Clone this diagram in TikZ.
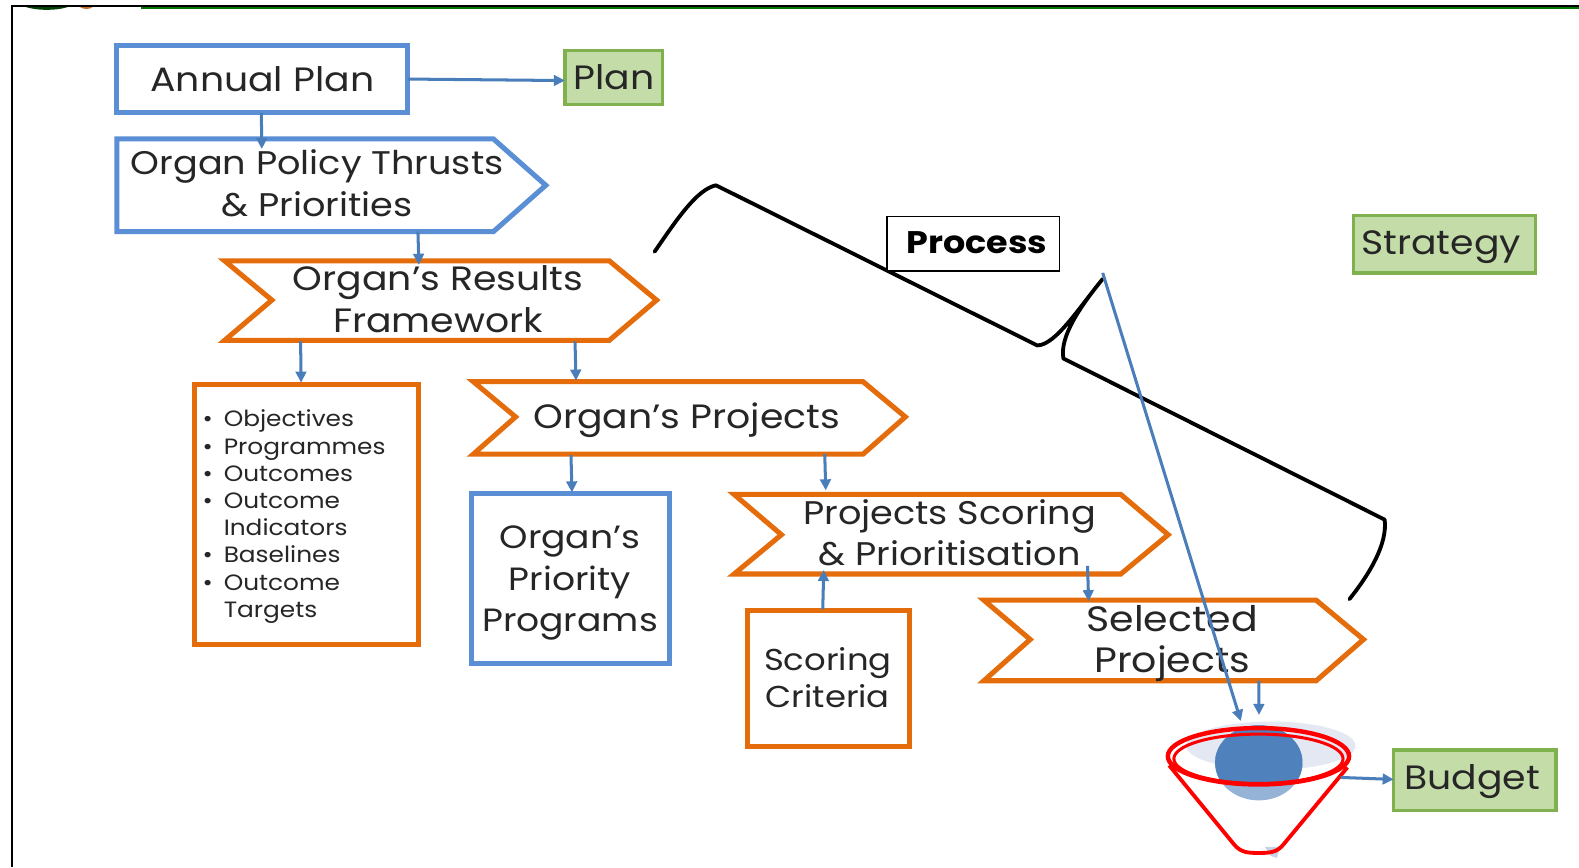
\documentclass[tikz,border=0pt]{standalone}
\usepackage{fontspec}
\setmainfont{Poppins}[FakeStretch=1.12]
\usetikzlibrary{arrows.meta,shapes.geometric}
\definecolor{bluebd}{HTML}{5A8FD6}
\definecolor{orangebd}{HTML}{E46C0A}
\definecolor{greenbd}{HTML}{7FB24F}
\definecolor{greenfl}{HTML}{C3DCA8}
\definecolor{conn}{HTML}{4A7EBB}
\definecolor{txt}{HTML}{262626}
\definecolor{eyedark}{HTML}{4F81BD}
\definecolor{eyelight}{HTML}{95B3D7}
\definecolor{eyepale}{HTML}{E3E8F2}
\definecolor{capmark}{HTML}{C5D2E6}
\newcommand{\bigfs}{\fontsize{33.5}{41}\selectfont}
\newcommand{\midfs}{\fontsize{32.5}{41}\selectfont}
\newcommand{\listfs}{\fontsize{22}{27}\selectfont}
\tikzset{
  box/.style={draw,line width=5pt,fill=white,inner sep=0pt,outer sep=0pt,text=txt,align=center},
  bluebox/.style={box,draw=bluebd},
  orangebox/.style={box,draw=orangebd},
  greenbox/.style={box,draw=greenbd,fill=greenfl,line width=3.5pt},
  blueshape/.style={draw=bluebd,line width=5pt,line join=miter,fill=white},
  orangeshape/.style={draw=orangebd,line width=5pt,line join=miter,fill=white},
  lbl/.style={text=txt,align=center,inner sep=0pt,font=\bigfs},
  anchorbox/.style={inner sep=0pt,outer sep=0pt},
  link/.style={draw=conn,line width=3pt,-{Triangle[length=11pt,width=10.5pt]}},
  brace/.style={draw=black,line width=3.8pt,line cap=round,line join=round},
  funnelline/.style={draw=red,line width=4.4pt,line join=round},
}
\begin{document}
\begin{tikzpicture}[x=1pt,y=-1pt]
\useasboundingbox (0,0) rectangle (1568,861);
\fill[white] (0,0) rectangle (1568,861);

% frame and header remnants
\fill[green!25!black] (23,6) .. controls (35,11) and (58,11) .. (70,6) -- cycle;
\fill[orangebd!70!gray] (78,6) .. controls (82,10) and (90,10) .. (93,6) -- cycle;
\draw[line width=1.6pt,green!45!black] (140,8) -- (1568,8);
\draw[line width=2.4pt,black] (12,861) -- (12,6) -- (1568,6);

% bracket
\draw[brace] (650,250) .. controls (672,218) and (692,188) .. (711,184)
  -- (1030,343) .. controls (1048,343) and (1072,305) .. (1095,277)
  .. controls (1072,305) and (1052,335) .. (1056,356)
  -- (1375,516) .. controls (1378,540) and (1360,570) .. (1340,595);

% named shape holders and outlines
\node[bluebox,minimum width=289pt,minimum height=67pt,font=\bigfs] (annual) at (260.5,78.5) {Annual Plan};
\node[greenbox,minimum width=97pt,minimum height=54pt,font=\bigfs] (plan) at (609.5,77) {Plan};
\node[greenbox,minimum width=181pt,minimum height=57pt] (strategy) at (1434.5,242.5) {};
\node[lbl] (strategyT) at (1431,245) {Strategy};
\node[greenbox,minimum width=161pt,minimum height=60pt] (budget) at (1464.5,775) {};
\node[lbl] (budgetT) at (1462,776) {Budget};

\draw[blueshape] (116,138) -- (490,138) -- (542,184) -- (490,230) -- (116,230) -- cycle;
\node[anchorbox,minimum width=374pt,minimum height=92pt] (policy) at (303,184) {};
\node[lbl,font=\midfs] (policyT) at (315,182) {Organ Policy Thrusts\\\& Priorities};

\draw[orangeshape] (223,259) -- (605,259) -- (652,298) -- (605,338) -- (223,338) -- (270,298) -- cycle;
\node[anchorbox,minimum width=385pt,minimum height=79pt] (results) at (412.5,298.5) {};
\node[lbl] (resultsT) at (435,297) {Organ’s Results\\Framework};

\draw[orangeshape] (470,379) -- (857,379) -- (899,414) -- (857,451) -- (470,451) -- (512,414) -- cycle;
\node[anchorbox,minimum width=390pt,minimum height=72pt] (projects) at (662,415) {};
\node[lbl] (projectsT) at (682,417) {Organ’s Projects};

\draw[orangeshape] (729,491) -- (1113,491) -- (1160,531) -- (1113,570) -- (729,570) -- (776,531) -- cycle;
\node[anchorbox,minimum width=387pt,minimum height=79pt] (scoring) at (919.5,530.5) {};
\node[lbl,font=\midfs] (scoringT) at (943,529) {Projects Scoring\\\& Prioritisation};

\draw[orangeshape] (977,596) -- (1307,596) -- (1354,635) -- (1307,676) -- (977,676) -- (1023,635) -- cycle;
\node[anchorbox,minimum width=333pt,minimum height=80pt] (selected) at (1140.5,636) {};
\node[lbl,font=\fontsize{35}{41}\selectfont] (selectedT) at (1164,639) {Selected\\Projects};

\node[orangebox,minimum width=223pt,minimum height=258pt] (objectives) at (304.5,511) {};
\node[text=txt,anchor=north west,inner sep=0pt,font=\listfs,align=left] (objectivesT) at (201,407) {%
\makebox[21pt][l]{\textbullet}Objectives\\
\makebox[21pt][l]{\textbullet}Programmes\\
\makebox[21pt][l]{\textbullet}Outcomes\\
\makebox[21pt][l]{\textbullet}Outcome\\
\makebox[21pt][l]{}Indicators\\
\makebox[21pt][l]{\textbullet}Baselines\\
\makebox[21pt][l]{\textbullet}Outcome\\
\makebox[21pt][l]{}Targets};

\node[bluebox,minimum width=197pt,minimum height=169pt] (priority) at (566.5,574.5) {};
\node[lbl,font=\fontsize{32}{41}\selectfont] (priorityT) at (566,579) {Organ’s\\Priority\\Programs};

\node[orangebox,minimum width=161pt,minimum height=135pt] (criteria) at (822.5,673.5) {};
\node[lbl,font=\fontsize{30}{36}\selectfont] (criteriaT) at (822,673) {Scoring\\Criteria};

\node[draw=black,line width=1.4pt,fill=white,minimum width=171pt,minimum height=54pt,inner sep=0pt] (process) at (966.5,242) {};
\node[lbl,font=\fontsize{31}{36}\selectfont\bfseries,text=black] (processT) at (970,241) {Process};

% funnel
\fill[eyepale] (1262,740.5) ellipse [x radius=84,y radius=24];
\fill[eyelight] (1250,757.5) ellipse [x radius=43.4,y radius=37.3];
\begin{scope}
  \clip (1150,700) rectangle (1350,752);
  \fill[eyedark] (1250,757.5) ellipse [x radius=43.4,y radius=37.3];
\end{scope}
\begin{scope}
  \clip (1249.7,751) ellipse [x radius=90,y radius=28];
  \fill[eyedark] (1250,757.5) ellipse [x radius=43.4,y radius=37.3];
\end{scope}
\fill[capmark] (1256,841) -- (1271,841) -- (1268,852) -- (1262,850) -- cycle;
\draw[funnelline,line width=3.8pt] (1161,760) -- (1225,838) .. controls (1232,847) and (1240,847) .. (1250,847)
  .. controls (1260,847) and (1268,847) .. (1275,838) -- (1338,762);
\node[draw=red,line width=4.4pt,ellipse,minimum width=180pt,minimum height=56pt,inner sep=0pt,outer sep=0pt] (funnel) at (1249.7,751) {};
\draw[funnelline,line width=3pt] (1249.7,753.5) ellipse [x radius=84,y radius=24.5];

% connectors
\draw[link] ([xshift=-1pt]annual.south) -- ([xshift=-43pt,yshift=-10pt]policy.north);
\draw[link] (annual.east) -- ([yshift=-3pt]plan.west);
\draw[link] ([xshift=112pt]policy.south) -- ([xshift=3.5pt,yshift=-4pt]results.north);
\draw[link] ([xshift=-114pt,yshift=-1pt]results.south) -- ([xshift=-5.5pt,yshift=2pt]objectives.north);
\draw[link] ([xshift=158.5pt,yshift=-1pt]results.south) -- ([xshift=-90pt,yshift=1pt]projects.north);
\draw[link] ([xshift=-95pt,yshift=-1pt]projects.south) -- ([xshift=1.5pt,yshift=1pt]priority.north);
\draw[link] ([xshift=157pt]projects.south) -- ([xshift=-99.5pt,yshift=4pt]scoring.north);
\draw[link] ([xshift=-5.5pt,yshift=1pt]criteria.north) -- ([xshift=-101.5pt,yshift=4pt]scoring.south);
\draw[link] ([xshift=160.5pt,yshift=8pt]scoring.south) -- ([xshift=-59.5pt,yshift=-1pt]selected.north);
\draw[link] ([xshift=109.5pt]selected.south) -- ([xshift=0.5pt,yshift=13pt]funnel.north);
\draw[link] ([xshift=-8.5pt,yshift=-21pt]funnel.east) -- ([yshift=1pt]budget.west);
\coordinate (longstart) at (1095,271);
\draw[link] (longstart) -- ([xshift=-17.5pt,yshift=7pt]funnel.north);
\end{tikzpicture}
\end{document}
